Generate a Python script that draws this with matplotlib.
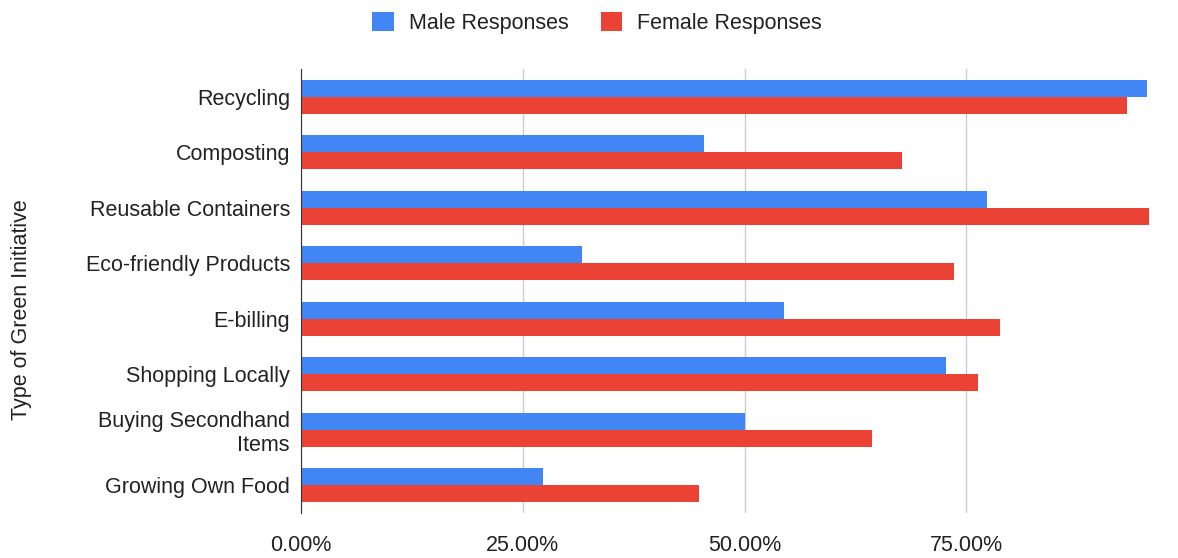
import matplotlib
matplotlib.use("Agg")
import matplotlib.pyplot as plt
import numpy as np
from matplotlib.ticker import FuncFormatter

categories = ["Recycling", "Composting", "Reusable Containers", "Eco-friendly Products",
              "E-billing", "Shopping Locally", "Buying Secondhand\nItems", "Growing Own Food"]
male = [95.4, 45.4, 77.3, 31.7, 54.5, 72.7, 50.1, 27.3]
female = [93.1, 67.8, 95.6, 73.6, 78.8, 76.3, 64.4, 44.9]
xticks = [0, 25, 50, 75]

plt.rcParams['font.family'] = ['Liberation Sans', 'DejaVu Sans']

fs = 15.5
fig = plt.figure(figsize=(11.78, 5.58), dpi=100)
ax = fig.add_axes([301/1178, 1 - 513/558, (1165-301)/1178, (513-69)/558])

y = np.arange(len(categories))
h = 0.31
ax.barh(y - h/2, male, height=h, color="#4285F4", label="Male Responses", zorder=3)
ax.barh(y + h/2, female, height=h, color="#EA4335", label="Female Responses", zorder=3)

ax.set_ylim(len(categories) - 0.5, -0.5)
ax.set_xlim(0, (1165-301)/8.87)
ax.set_yticks(y)
ax.set_yticklabels(categories, fontsize=fs, color="#222222")
ax.set_xticks(xticks)
ax.xaxis.set_major_formatter(FuncFormatter(lambda v, p: f"{v:.2f}%"))
ax.tick_params(axis='x', labelsize=fs, colors="#222222", length=0, pad=16)
ax.tick_params(axis='y', length=0, pad=8)
ax.grid(axis='x', color="#cccccc", linewidth=1, zorder=0)
for s in ["top", "right", "bottom"]:
    ax.spines[s].set_visible(False)
ax.spines["left"].set_color("#333333")
ax.spines["left"].set_zorder(4)
ax.set_ylabel("Type of Green Initiative", fontsize=fs, color="#222222")
ax.yaxis.set_label_coords(-(301-32)/864, 0.457)

fig.legend(loc="center", bbox_to_anchor=(597/1178, 1 - 23/558), ncol=2, frameon=False,
           fontsize=fs, handlelength=1.0, handleheight=1.0, columnspacing=1.5,
           handletextpad=0.7, labelcolor="#222222")

fig.savefig("out.png", dpi=100)
